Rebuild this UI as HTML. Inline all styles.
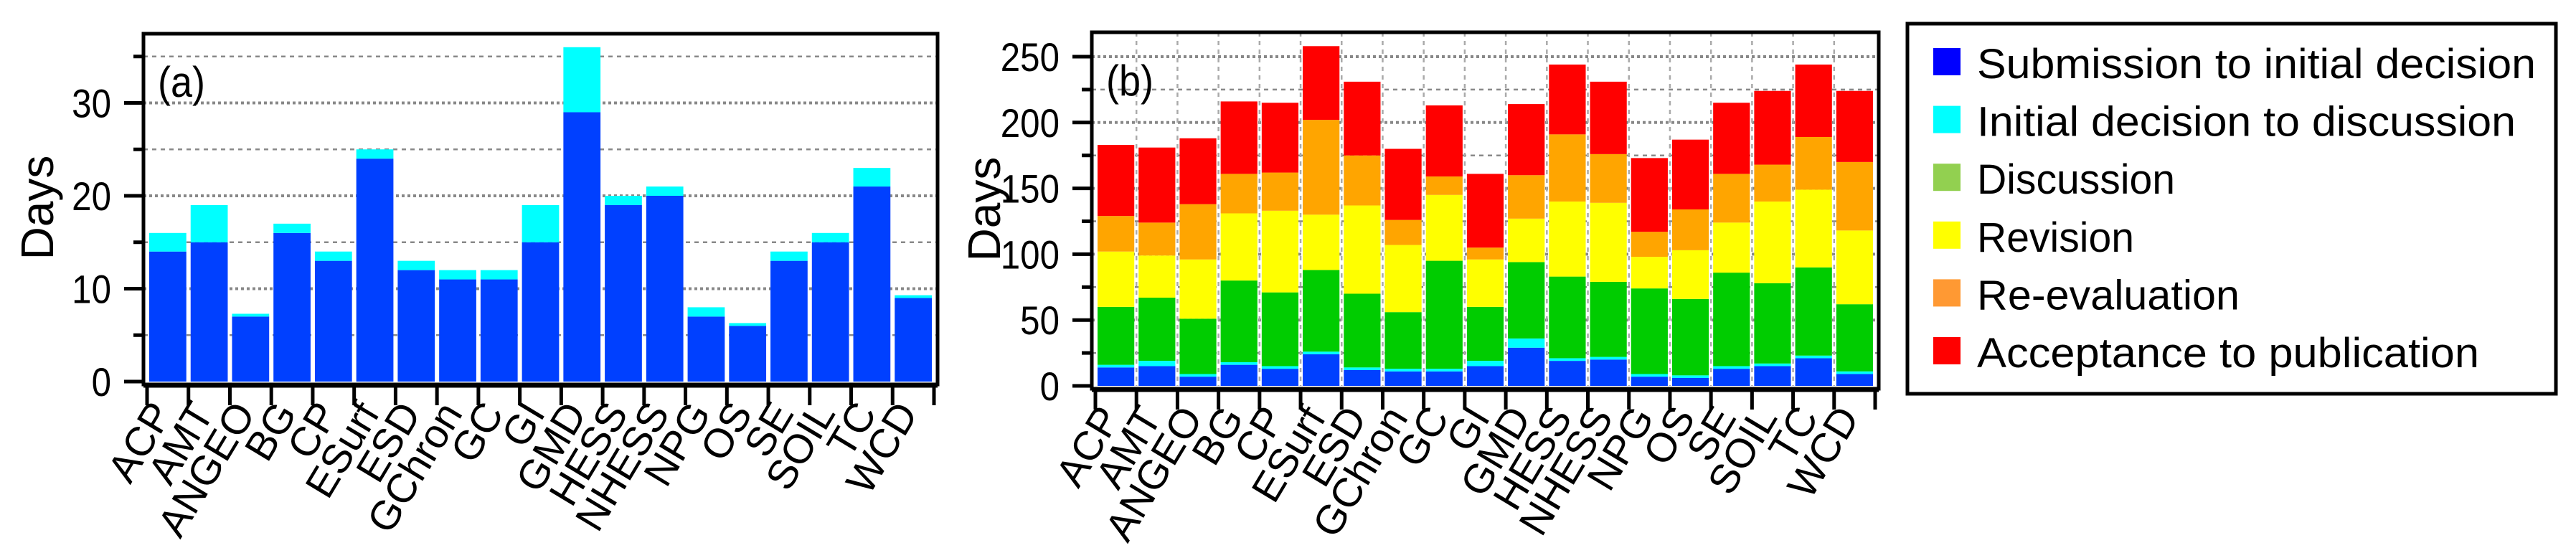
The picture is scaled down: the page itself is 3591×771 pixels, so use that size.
<!DOCTYPE html>
<html><head><meta charset="utf-8"><style>
html,body{margin:0;padding:0;background:#fff;}
svg{display:block;}
text{font-family:"Liberation Sans",sans-serif;}
</style></head><body>
<svg id="fig" width="3591" height="771" viewBox="0 0 3591 771" xmlns="http://www.w3.org/2000/svg"></svg>
<script>
const categories=["ACP","AMT","ANGEO","BG","CP","ESurf","ESD","GChron","GC","GI","GMD","HESS","NHESS","NPG","OS","SE","SOIL","TC","WCD"];
// panel (a)
const aSubmission=[14,15,7,16,13,24,12,11,11,15,29,19,20,7,6,13,15,21,9];
const aInitialToDiscussion=[2,4,0.3,1,1,1,1,1,1,4,7,1,1,1,0.3,1,1,2,0.3];
const aTicks=[0,10,20,30];
// panel (b)
const bSubmission=[14,15,7,16,13,24,12,11,11,15,29,19,20,7,6,13,15,21,9];
const bInitial=[2,4,2,2,2,2,2,2,2,4,7,2,2,2,2,2,2,2,2];
const bDiscussion=[44,48,42,62,56,62,56,43,82,41,58,62,57,65,58,71,61,67,51];
const bRevision=[42,32,45,51,62,42,67,51,50,36,33,57,60,24,37,38,62,59,56];
const bReevaluation=[27,25,42,30,29,72,38,19,14,9,33,51,37,19,31,37,28,40,52];
const bAcceptance=[54,57,50,55,53,56,56,54,54,56,54,53,55,56,53,54,56,55,54];
const bTicks=[0,50,100,150,200,250];
const seriesNames=["Submission to initial decision","Initial decision to discussion","Discussion","Revision","Re-evaluation","Acceptance to publication"];
const barColors=["#0040ff","#00ffff","#00cc00","#ffff00","#ffa500","#ff0000"];
const legendColors=["#0000ff","#00ffff","#92d050","#ffff00","#ff9933","#ff0000"];

const NS="http://www.w3.org/2000/svg";
const svg=document.getElementById('fig');
function mk(tag,attrs,parent){const e=document.createElementNS(NS,tag);for(const k in attrs)e.setAttribute(k,attrs[k]);(parent||svg).appendChild(e);return e;}

function panel(cfg){
  const g=mk('g',{});
  
  
  const {x0,x1,top,zero,ppu}=cfg;
  const n=categories.length, bw=(x1-x0-10)/n;
  const xb=i=>x0+5+i*bw;
  const y=v=>zero-v*ppu;
  for(let v=cfg.minorStep;v<=cfg.maxV;v+=cfg.minorStep){
    const yy=y(v); if(yy<top) continue;
    const major=Math.abs(v/cfg.majorStep-Math.round(v/cfg.majorStep))<1e-6;
    const l=mk('line',{x1:x0,x2:x1,y1:yy,y2:yy,stroke:'#888','stroke-width':major?4:2.5,'stroke-dasharray':major?'4 4':'6 6'},g);
    
    
  }
  if(cfg.vgrid){
    for(let i=1;i<n;i++){
      const l=mk('line',{x1:x0+5+i*bw,x2:x0+5+i*bw,y1:top,y2:zero,stroke:'#aaa','stroke-width':2.5,'stroke-dasharray':'6 6'},g);
      
      
    }
  }
  for(let i=0;i<n;i++){
    let base=0;
    cfg.series.forEach((arr,s)=>{
      const v=arr[i];
      const r=mk('rect',{x:xb(i)+3,y:y(base+v),width:bw-6,height:v*ppu,fill:barColors[s]},g);
      
      
      base+=v;
    });
  }
  const fr=mk('rect',{x:x0,y:top,width:x1-x0,height:zero+4-top,fill:'none',stroke:'#000','stroke-width':5},g);
  
  
  for(let v=0;v<=cfg.maxV;v+=cfg.minorStep){
    const yy=y(v); if(yy<top) continue;
    const major=Math.abs(v/cfg.majorStep-Math.round(v/cfg.majorStep))<1e-6;
    mk('line',{x1:x0-(major?27:14),x2:x0,y1:yy,y2:yy,stroke:'#000','stroke-width':5},g);
  }
  cfg.ticks.forEach(v=>{
    const t=mk('text',{x:x0-45,y:y(v)+20,'font-size':56,'text-anchor':'end',transform:`translate(${x0-45} 0) scale(0.88 1) translate(${-(x0-45)} 0)`},g);
    t.textContent=v;
    
    
  });
  mk('line',{x1:x0,x2:x1,y1:zero+6,y2:zero+6,stroke:'#000','stroke-width':5},g);
  for(let i=0;i<=n;i++){
    mk('line',{x1:x0+5+i*bw,x2:x0+5+i*bw,y1:zero+6,y2:zero+33,stroke:'#000','stroke-width':5},g);
  }
  categories.forEach((c,i)=>{
    const cx=xb(i)+bw/2+8, cy=zero+44;
    const t=mk('text',{x:cx,y:cy,'font-size':57,'text-anchor':'end',transform:`rotate(-59 ${cx} ${cy})`},g);
    t.textContent=c;
    
    
  });
  const yt=mk('text',{x:cfg.titleX,y:(top+zero)/2,'font-size':64,'text-anchor':'middle',transform:`rotate(-90 ${cfg.titleX} ${(top+zero)/2})`},g);
  yt.textContent='Days';
  
  
  const pl=mk('text',{x:x0+20,y:top+88,'font-size':60,transform:`translate(${x0+20} 0) scale(0.9 1) translate(${-(x0+20)} 0)`},g);
  pl.textContent=cfg.label;
  
  
}

panel({name:'panel-a',x0:200,x1:1307,top:47,zero:532,ppu:12.95,maxV:35,minorStep:5,majorStep:10,ticks:aTicks,series:[aSubmission,aInitialToDiscussion],titleX:74,label:'(a)',vgrid:false});
panel({name:'panel-b',x0:1522,x1:2619,top:45,zero:538,ppu:1.836,maxV:250,minorStep:25,majorStep:50,ticks:bTicks,series:[bSubmission,bInitial,bDiscussion,bRevision,bReevaluation,bAcceptance],titleX:1394,label:'(b)',vgrid:true});

const lg=mk('g',{});


mk('rect',{x:2659,y:33,width:904,height:516,fill:'#fff',stroke:'#000','stroke-width':5},lg);
seriesNames.forEach((nm,i)=>{
  const yy=67+i*80.6;
  const e=mk('g',{},lg);
  
  
  mk('rect',{x:2695,y:yy,width:38,height:38,fill:legendColors[i]},e);
  const t=mk('text',{x:2756,y:yy+42,'font-size':58},e);
  const tw={0:779,1:751,2:276,3:219,4:366,5:700}[i];
  t.setAttribute('textLength',tw);
  t.setAttribute('lengthAdjust','spacingAndGlyphs');
  t.textContent=nm;
});
</script>
</body></html>
